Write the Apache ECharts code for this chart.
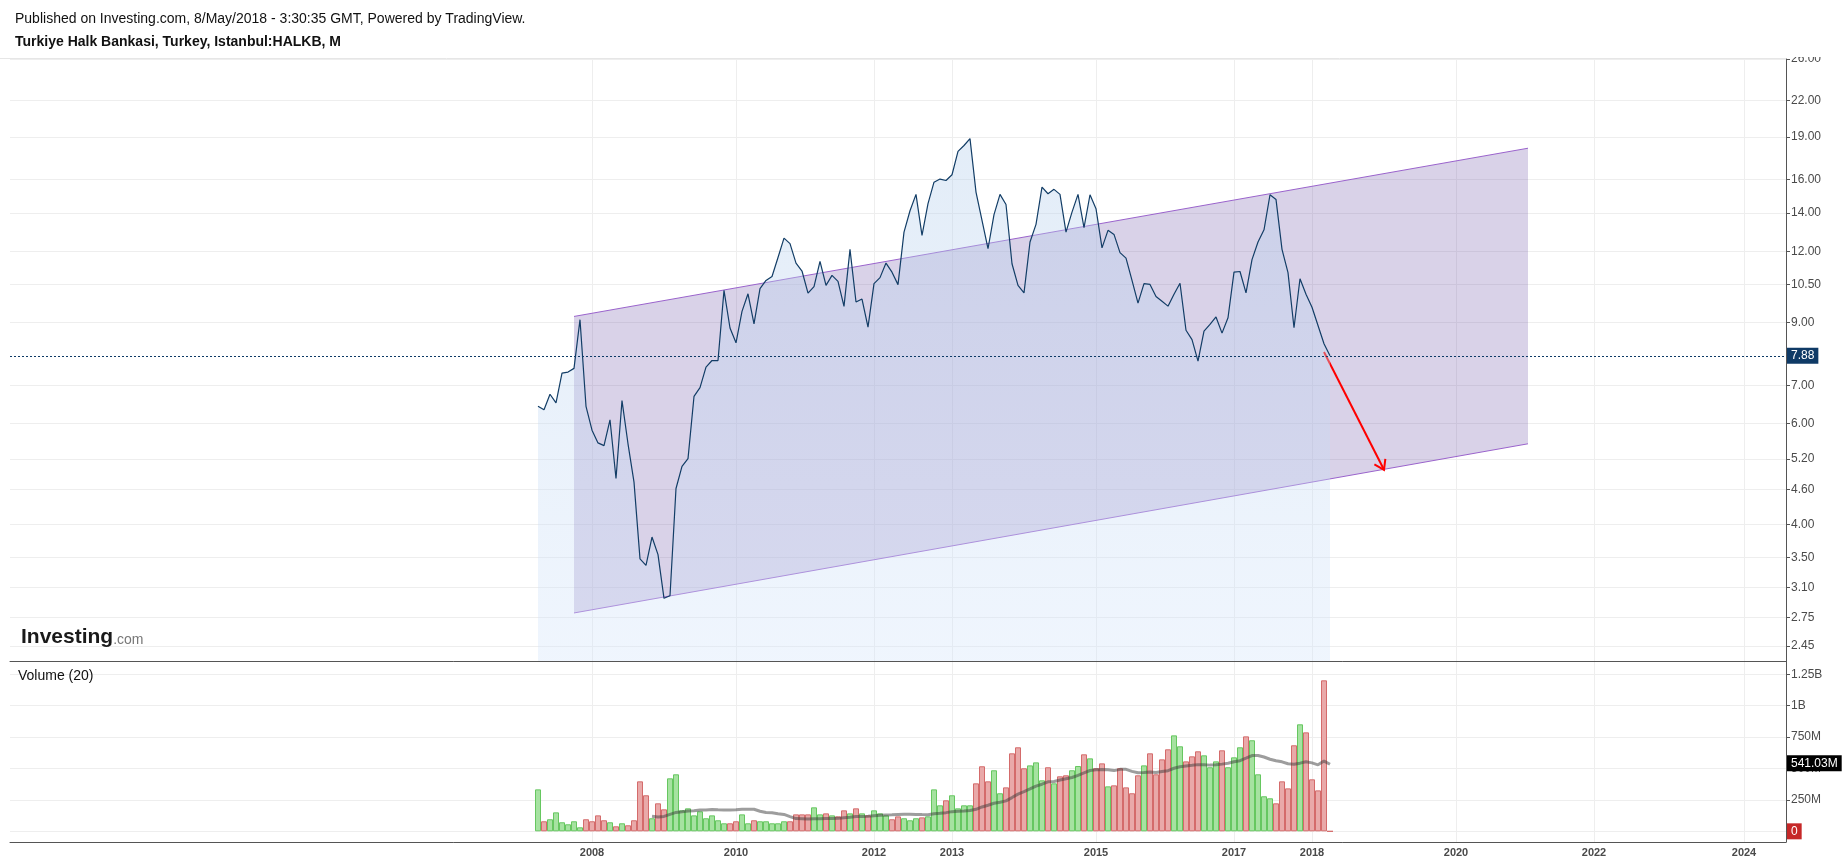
<!DOCTYPE html>
<html><head><meta charset="utf-8">
<script src="https://cdn.jsdelivr.net/npm/echarts@6/dist/echarts.min.js"></script>
<style>html,body{margin:0;padding:0;background:#fff}#c{width:1844px;height:865px}</style>
</head><body><div id="c"></div>
<script>
// ---------- data ----------
const firstMonth = '2007-05';           // first monthly bar
const closes = [
 6.43,6.34,6.75,6.52,7.35,7.38,7.49,9.11,6.43,5.84,5.55,5.49,6.09,4.81,6.58,5.53,4.74,3.48,3.39,3.80,
 3.54,2.97,3.00,4.62,5.05,5.21,6.69,6.93,7.53,7.73,7.73,10.25,8.81,8.30,9.42,10.11,8.96,10.32,10.67,10.84,
 11.70,12.65,12.37,11.44,11.08,10.14,10.41,11.52,10.46,10.89,10.63,9.61,12.09,9.78,9.90,8.84,10.53,10.79,11.44,11.03,
 10.49,12.96,14.12,15.08,12.79,14.53,15.84,16.04,15.95,16.32,17.93,18.36,18.87,15.22,13.58,12.12,13.90,15.08,14.48,11.41,
 10.46,10.15,12.45,13.37,15.53,15.12,15.39,15.08,12.96,14.04,15.08,13.19,15.06,14.24,12.16,13.05,12.84,11.93,11.67,10.67,
 9.74,10.53,10.50,10.00,9.81,9.62,10.09,10.55,8.73,8.41,7.71,8.70,8.94,9.21,8.63,9.18,11.03,11.06,10.15,11.60,
 12.45,13.08,15.06,14.78,12.09,11.01,8.82,10.74,10.09,9.58,8.90,8.27,7.88
];
// monthly volume, millions
const volumes = [
 334,80,96,151,72,56,80,32,96,80,127,88,72,40,64,48,88,398,287,104,
 223,175,422,454,167,183,127,159,104,127,88,64,64,80,135,64,88,80,80,64,
 64,80,80,135,135,135,191,135,143,127,119,167,143,183,143,127,167,143,127,96,
 119,104,88,104,111,119,334,207,247,287,183,207,207,382,518,398,486,303,350,621,
 669,502,525,549,406,510,382,438,446,486,520,613,581,502,541,358,366,502,350,303,
 446,525,621,454,573,653,764,677,557,597,637,605,510,557,645,510,589,669,756,725,
 454,279,263,223,398,342,685,852,788,414,326,1202,0
];
// 1 = up (green) bar, 0 = down (red) bar
const volumeUp = [
 1,0,1,1,1,1,1,1,0,0,0,0,1,0,1,0,0,0,0,1,
 0,0,1,1,1,1,1,1,1,1,1,1,0,0,1,1,0,1,1,1,
 1,1,0,0,0,0,1,1,0,1,0,0,1,0,1,0,1,1,1,0,
 0,1,1,1,0,1,1,1,0,1,1,1,1,0,0,0,1,1,0,0,
 0,0,1,1,1,0,1,0,0,1,1,0,1,0,0,1,0,0,0,0,
 0,1,0,0,0,0,1,1,0,0,0,1,1,1,0,1,1,1,0,1,
 1,1,1,0,0,0,0,1,0,0,0,0,0
];
const lastPriceLabel = '7.88';
const volumeMaLast = 541.03;            // millions
const volumeMaLabel = '541.03M';
const lastVolumeLabel = '0';
const maPeriod = 20;

const priceTicks = [2.45,2.75,3.10,3.50,4.00,4.60,5.20,6.00,7.00,9.00,10.50,12.00,14.00,16.00,19.00,22.00,26.00];
const volumeTicks = [0,250,500,750,1000,1250];
const yearTickMonths = ['2008-02','2010-02','2012-01','2013-02','2015-02','2017-01','2018-02','2020-02','2022-01','2024-02'];
const yearTickLabels = ['2008','2010','2012','2013','2015','2017','2018','2020','2022','2024'];

// drawings
const channelMonths = ['2007-11','2021-02'];
const channelUpper = [9.23, 18.16];
const channelLower = [2.80, 5.53];
const arrowMonths = ['2018-04','2019-02'];
const arrowPrices = [8.00, 4.98];

// ---------- build ----------
const months = [];
for (let y = 2000, m = 1; y < 2024 || (y === 2024 && m <= 9);) {
  months.push(y + '-' + String(m).padStart(2, '0'));
  m++; if (m > 12) { m = 1; y++; }
}
const s0 = months.indexOf(firstMonth);
const priceData = closes.map((v, i) => [months[s0 + i], v]);
const volData = volumes.map((v, i) => ({
  value: [months[s0 + i], v],
  itemStyle: volumeUp[i]
    ? {color: '#a6e2a1', borderColor: '#66c760', borderWidth: 1}
    : {color: '#e9a9a9', borderColor: '#d46b6b', borderWidth: 1}
}));
const maData = [];
for (let i = maPeriod - 1; i < volumes.length; i++) {
  let s = 0; for (let j = i - maPeriod + 1; j <= i; j++) s += volumes[j];
  maData.push([months[s0 + i], s / maPeriod]);
}
const isYearTick = (idx, val) => yearTickMonths.indexOf(val) >= 0;
const FONT = 'Liberation Sans, Arial, sans-serif';
const GRID_COLOR = '#eeeeee';
const AXIS_COLOR = '#555';

function renderChannel(params, api) {
  if (params.dataIndex !== 0) return null;
  const i0 = months.indexOf(channelMonths[0]), i1 = months.indexOf(channelMonths[1]);
  const u0 = api.coord([i0, channelUpper[0]]), u1 = api.coord([i1, channelUpper[1]]);
  const l0 = api.coord([i0, channelLower[0]]), l1 = api.coord([i1, channelLower[1]]);
  return {type: 'group', children: [
    {type: 'polygon', shape: {points: [u0, u1, l1, l0]}, style: {fill: 'rgba(103,75,163,0.25)'}},
    {type: 'line', shape: {x1: u0[0], y1: u0[1], x2: u1[0], y2: u1[1]}, style: {stroke: '#9a63cc', lineWidth: 1}},
    {type: 'line', shape: {x1: l0[0], y1: l0[1], x2: l1[0], y2: l1[1]}, style: {stroke: '#9a63cc', lineWidth: 1}}
  ]};
}
function renderArrow(params, api) {
  if (params.dataIndex !== 0) return null;
  const a0 = api.coord([months.indexOf(arrowMonths[0]), arrowPrices[0]]);
  const a1 = api.coord([months.indexOf(arrowMonths[1]), arrowPrices[1]]);
  const ang = Math.atan2(a1[1] - a0[1], a1[0] - a0[0]);
  const L = 11, sp = 34 * Math.PI / 180;
  const h1 = [a1[0] - L * Math.cos(ang - sp), a1[1] - L * Math.sin(ang - sp)];
  const h2 = [a1[0] - L * Math.cos(ang + sp), a1[1] - L * Math.sin(ang + sp)];
  const st = {stroke: '#ff0000', lineWidth: 2, fill: null};
  return {type: 'group', children: [
    {type: 'line', shape: {x1: a0[0], y1: a0[1], x2: a1[0], y2: a1[1]}, style: st},
    {type: 'polyline', shape: {points: [h1, a1, h2]}, style: st}
  ]};
}

const chart = echarts.init(document.getElementById('c'), null, {renderer: 'canvas'});
chart.setOption({
  animation: false,
  backgroundColor: '#fff',
  textStyle: {fontFamily: FONT},
  title: [
    {text: 'Published on Investing.com, 8/May/2018 - 3:30:35 GMT, Powered by TradingView.', left: 15, top: 12, padding: 0,
     textStyle: {fontSize: 14, fontWeight: 'normal', color: '#111', fontFamily: FONT}},
    {text: 'Turkiye Halk Bankasi, Turkey, Istanbul:HALKB, M', left: 15, top: 35, padding: 0,
     textStyle: {fontSize: 14, fontWeight: 'bold', color: '#111', fontFamily: FONT}}
  ],
  grid: [
    {left: 10, right: 58, top: 59, height: 602},
    {left: 10, right: 58, top: 661, height: 181}
  ],
  xAxis: [
    {type: 'category', gridIndex: 0, data: months, boundaryGap: false,
     axisLine: {show: true, onZero: false, lineStyle: {color: AXIS_COLOR, width: 1}},
     axisTick: {show: false}, axisLabel: {show: false},
     splitLine: {show: true, interval: isYearTick, lineStyle: {color: GRID_COLOR}}},
    {type: 'category', gridIndex: 1, data: months, boundaryGap: false,
     axisLine: {show: true, onZero: false, lineStyle: {color: AXIS_COLOR, width: 1}},
     axisTick: {show: false},
     axisLabel: {show: true, interval: isYearTick, margin: 5,
       formatter: v => yearTickLabels[yearTickMonths.indexOf(v)],
       color: '#4a4a4a', fontSize: 11, fontWeight: 'bold', fontFamily: FONT},
     splitLine: {show: true, interval: isYearTick, lineStyle: {color: GRID_COLOR}}}
  ],
  yAxis: [
    {type: 'log', logBase: 10, gridIndex: 0, position: 'right', min: 2.308, max: 26,
     axisLine: {show: true, lineStyle: {color: AXIS_COLOR}},
     axisTick: {show: true, customValues: priceTicks, length: 4, lineStyle: {color: AXIS_COLOR}},
     axisLabel: {customValues: priceTicks, formatter: v => Number(v).toFixed(2), margin: 5,
       color: '#4a4a4a', fontSize: 12, fontFamily: FONT},
     splitLine: {show: true, lineStyle: {color: GRID_COLOR}}},
    {type: 'value', gridIndex: 1, position: 'right', min: -85, max: 1356,
     axisLine: {show: true, onZero: false, lineStyle: {color: AXIS_COLOR}},
     axisTick: {show: true, customValues: volumeTicks, length: 4, lineStyle: {color: AXIS_COLOR}},
     axisLabel: {customValues: volumeTicks, margin: 5, color: '#4a4a4a', fontSize: 12, fontFamily: FONT,
       formatter: v => v >= 1000 ? (v / 1000) + 'B' : (v === 0 ? '0' : v + 'M')},
     splitLine: {show: true, lineStyle: {color: GRID_COLOR}}}
  ],
  series: [
    {type: 'custom', name: 'channel', xAxisIndex: 0, yAxisIndex: 0, z: 1, silent: true,
     renderItem: renderChannel, encode: {x: 0, y: [1, 2]},
     data: channelMonths.map((m, i) => [m, channelUpper[i], channelLower[i]])},
    {type: 'custom', name: 'arrow', xAxisIndex: 0, yAxisIndex: 0, z: 1, silent: true,
     renderItem: renderArrow, encode: {x: 0, y: 1},
     data: arrowMonths.map((m, i) => [m, arrowPrices[i]])},
    {type: 'line', name: 'HALKB', xAxisIndex: 0, yAxisIndex: 0, z: 3, data: priceData,
     symbol: 'none', lineStyle: {color: '#123d66', width: 1.2},
     areaStyle: {origin: 'start', color: new echarts.graphic.LinearGradient(0, 0, 0, 1, [
       {offset: 0, color: 'rgba(178,205,235,0.52)'}, {offset: 1, color: 'rgba(212,229,251,0.52)'}])},
     markLine: {silent: true, symbol: ['none', 'none'], animation: false,
       lineStyle: {color: '#0d3a66', type: [2, 2], width: 1},
       label: {show: true, position: 'end', distance: 1, formatter: lastPriceLabel, color: '#fff',
         backgroundColor: '#0f3a66', padding: [2, 4, 2, 4], fontSize: 12, fontFamily: FONT},
       data: [{yAxis: closes[closes.length - 1]}]}},
    {type: 'bar', name: 'Volume', xAxisIndex: 1, yAxisIndex: 1, z: 2, data: volData, barWidth: 6,
     markLine: {silent: true, symbol: ['none', 'none'], animation: false,
       lineStyle: {color: 'transparent'},
       label: {show: true, position: 'end', distance: 1, formatter: lastVolumeLabel, color: '#fff',
         backgroundColor: '#c62828', padding: [2, 4, 2, 4], fontSize: 12, fontFamily: FONT},
       data: [{yAxis: volumes[volumes.length - 1]}]}},
    {type: 'line', name: 'Volume MA', xAxisIndex: 1, yAxisIndex: 1, z: 4, data: maData,
     symbol: 'none', lineStyle: {color: 'rgba(60,60,60,0.5)', width: 3},
     markLine: {silent: true, symbol: ['none', 'none'], animation: false,
       lineStyle: {color: 'transparent'},
       label: {show: true, position: 'end', distance: 1, formatter: volumeMaLabel, color: '#fff',
         backgroundColor: '#000', padding: [2, 4, 2, 4], fontSize: 12, fontFamily: FONT},
       data: [{yAxis: volumeMaLast}]}}
  ],
  graphic: [
    {type: 'rect', left: 1787, top: 0, shape: {width: 57, height: 57}, style: {fill: '#fff'}, z: 100},
    {type: 'line', shape: {x1: 0, y1: 58.5, x2: 1786, y2: 58.5}, style: {stroke: '#e6e6e6', lineWidth: 1}, z: 100},
    {type: 'text', left: 18, top: 669, z: 100,
     style: {text: 'Volume (20)', font: '14px ' + FONT, fill: '#111'}},
    {type: 'text', left: 21, top: 627, z: 100,
     style: {text: '{a|Investing}{b|.com}', rich: {
       a: {fontSize: 21, fontWeight: 'bold', fill: '#1a1a1a', fontFamily: FONT, letterSpacing: -0.6},
       b: {fontSize: 14, fill: '#777', fontFamily: FONT, padding: [5, 0, 0, 0]}}}}
  ]
});
</script></body></html>
